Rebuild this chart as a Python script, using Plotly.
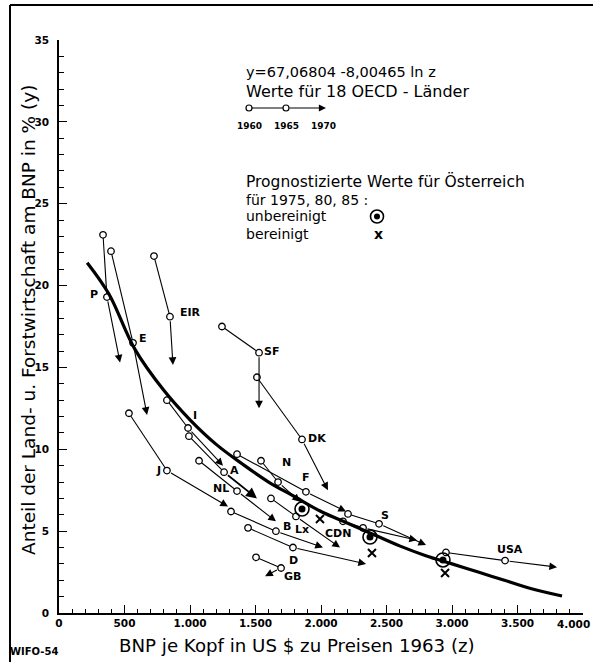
import plotly.graph_objects as go

# ---------------- data ----------------
countries = ["P", "E", "EIR", "SF", "DK", "I", "A", "J", "NL", "N", "F", "B", "Lx", "D", "GB", "CDN", "S", "USA"]
bnp_1960 = [336, 397, 725, 1244, 1511, 824, 992, 534, 1069, 1542, 1359, 1313, 1618, 1443, 1504, 2168, 2206, 2954]
bnp_1965 = [366, 565, 847, 1527, 1855, 985, 1260, 824, 1359, 1672, 1885, 1656, 1809, 1786, 1695, 2321, 2443, 3405]
bnp_1970 = [466, 672, 870, 1527, 2053, 1252, 1511, 1290, 1656, 1840, 2191, 2015, 2145, 2344, 1573, 2733, 2802, 3802]
agr_1960 = [23.1, 22.1, 21.8, 17.5, 14.4, 13.0, 10.8, 12.2, 9.3, 9.3, 9.7, 6.2, 7.0, 5.2, 3.4, 5.6, 6.05, 3.7]
agr_1965 = [19.3, 16.5, 18.1, 15.9, 10.6, 11.3, 8.6, 8.7, 7.45, 8.0, 7.4, 5.0, 5.9, 4.0, 2.75, 5.2, 5.45, 3.2]
agr_1970 = [15.3, 12.1, 15.15, 12.5, 7.5, 9.0, 7.0, 6.5, 5.6, 6.8, 6.2, 4.0, 4.0, 3.0, 2.25, 4.45, 4.15, 2.8]

# regression curve y = 67,06804 - 8,00465 ln z
curve_z = [215, 380, 580, 800, 1000, 1200, 1400, 1600, 1800, 2000, 2200, 2400, 2600, 2800, 3000, 3200, 3400, 3600, 3840]
curve_y = [21.4, 19.5, 16.1, 13.6, 11.8, 10.3, 9.1, 8.0, 7.1, 6.2, 5.5, 4.8, 4.1, 3.5, 3.0, 2.5, 2.0, 1.5, 1.04]

# Austria forecasts 1975, 80, 85
aut_years = ["1975", "1980", "1985"]
aut_unber_z = [1855, 2374, 2931]
aut_unber_y = [6.35, 4.64, 3.24]
aut_ber_z = [1992, 2389, 2947]
aut_ber_y = [5.74, 3.67, 2.44]

x_tickvals = [0, 500, 1000, 1500, 2000, 2500, 3000, 3500, 4000]
x_ticktext = ["0", "500", "1.000", "1.500", "2.000", "2.500", "3.000", "3.500", "4.000"]
y_tickvals = [0, 5, 10, 15, 20, 25, 30, 35]
y_ticktext = ["0", "5", "10", "15", "20", "25", "30", "35"]

# label offsets (pixels) relative to 1965 point
label_shift = {
    "P": (-13, 3), "E": (10, 4), "EIR": (21, 4), "SF": (12, 1), "DK": (15, 1),
    "I": (7, 13), "A": (10, 2), "J": (-8, 0), "NL": (-16, 3), "N": (8, 20),
    "F": (0, 14), "B": (11, 5), "Lx": (6, -13), "D": (1, -13), "GB": (11, -9),
    "CDN": (-25, -6), "S": (6, 8), "USA": (5, 11),
}

# ---------------- geometry helpers ----------------
W, H = 593, 662
L, R, T, B = 59, 583, 40, 613
FONT = "DejaVu Sans"


def px(x):
    return (x - L) / (R - L)


def py(y):
    return (B - y) / (B - T)


fig = go.Figure()

# country trajectories 1960 -> 1965
for i, c in enumerate(countries):
    fig.add_trace(go.Scatter(
        x=[bnp_1960[i], bnp_1965[i]], y=[agr_1960[i], agr_1965[i]],
        mode="lines+markers", line=dict(color="black", width=1.1),
        marker=dict(symbol="circle", size=6.5, color="white", line=dict(color="black", width=1.3)),
        hoverinfo="skip", showlegend=False,
    ))

# regression curve
fig.add_trace(go.Scatter(x=curve_z, y=curve_y, mode="lines", line=dict(color="black", width=3.2, shape="spline"),
                         hoverinfo="skip", showlegend=False))

# Austria forecasts
fig.add_trace(go.Scatter(x=aut_unber_z, y=aut_unber_y, mode="markers", text=aut_years,
                         marker=dict(symbol="circle-open", size=14, color="black", line=dict(width=1.6)),
                         hoverinfo="skip", showlegend=False))
fig.add_trace(go.Scatter(x=aut_unber_z, y=aut_unber_y, mode="markers",
                         marker=dict(symbol="circle", size=7, color="black"),
                         hoverinfo="skip", showlegend=False))
fig.add_trace(go.Scatter(x=aut_ber_z, y=aut_ber_y, mode="markers",
                         marker=dict(symbol="x-thin-open", size=8, color="black", line=dict(width=2, color="black")),
                         hoverinfo="skip", showlegend=False))

annotations = []
# arrows 1965 -> 1970
for i, c in enumerate(countries):
    annotations.append(dict(
        x=bnp_1970[i], y=agr_1970[i], ax=bnp_1965[i], ay=agr_1965[i],
        xref="x", yref="y", axref="x", ayref="y", text="", showarrow=True,
        arrowhead=2, arrowsize=1.4 if c != "A" else 1.2, arrowwidth=1.8 if c == "A" else 1.1, arrowcolor="black",
        startstandoff=3,
    ))
    dx, dy = label_shift[c]
    annotations.append(dict(
        x=bnp_1965[i], y=agr_1965[i], xref="x", yref="y", text="<b>%s</b>" % c, showarrow=False,
        xshift=dx, yshift=dy, font=dict(family=FONT, size=11, color="black"),
        xanchor="center", yanchor="middle",
    ))


# text block
def txt(x, y, s, size=14, xanchor="left", bold=False, angle=0):
    annotations.append(dict(x=px(x), y=py(y), xref="paper", yref="paper", text=("<b>%s</b>" % s) if bold else s,
                            showarrow=False, xanchor=xanchor, yanchor="middle", textangle=angle,
                            font=dict(family=FONT, size=size, color="black")))


txt(244, 72, "y=67,06804 -8,00465 ln z", 14.5)
txt(244, 91, "Werte für 18 OECD - Länder", 16)
txt(249, 126, "1960", 9, "center", True)
txt(286, 126, "1965", 9, "center", True)
txt(323, 126, "1970", 9, "center", True)
txt(244, 182, "Prognostizierte Werte für Österreich", 15.5)
txt(244, 199.5, "für 1975, 80, 85 :", 14)
txt(244, 216.5, "unbereinigt", 14)
txt(244, 233.5, "bereinigt", 14)
txt(378, 234, "x", 14, "center", True)
txt(28, 320, "Anteil der Land- u. Forstwirtschaft am BNP in % (y)", 18.5, "center", False, -90)
txt(297, 645, "BNP je Kopf in US $ zu Preisen 1963 (z)", 18.2, "center")
txt(8, 651, "WIFO-54", 10, "left", True)

tickfont = dict(family=FONT, size=10.5, color="black")
# last x tick label, kept inside the page (right-aligned at the edge)
annotations.append(dict(x=x_tickvals[-1], y=py(624), xref="x", yref="paper", text="<b>%s</b>" % x_ticktext[-1],
                        showarrow=False, xanchor="right", yanchor="middle", xshift=9, font=tickfont))

# legend arrow 1965 -> 1970
annotations.append(dict(x=px(326), y=py(108), xref="paper", yref="paper", ax=-41, ay=0, axref="pixel", ayref="pixel",
                        text="", showarrow=True, arrowhead=2, arrowsize=1.3, arrowwidth=1.1, arrowcolor="black",
                        startstandoff=3))

shapes = [
    # frame lines
    dict(type="line", xref="paper", yref="paper", x0=px(10), x1=px(593), y0=py(5), y1=py(5),
         line=dict(color="black", width=2)),
    dict(type="line", xref="paper", yref="paper", x0=px(10), x1=px(10), y0=py(5), y1=py(662),
         line=dict(color="black", width=2)),
    # legend line + circles
    dict(type="line", xref="paper", yref="paper", x0=px(249), x1=px(286), y0=py(108), y1=py(108),
         line=dict(color="black", width=1.1)),
    dict(type="circle", xref="paper", yref="paper", x0=px(246), x1=px(252), y0=py(111), y1=py(105),
         line=dict(color="black", width=1.2), fillcolor="white"),
    dict(type="circle", xref="paper", yref="paper", x0=px(283), x1=px(289), y0=py(111), y1=py(105),
         line=dict(color="black", width=1.2), fillcolor="white"),
    # unbereinigt symbol
    dict(type="circle", xref="paper", yref="paper", x0=px(370.5), x1=px(383.5), y0=py(223), y1=py(210),
         line=dict(color="black", width=1.6), fillcolor="white"),
    dict(type="circle", xref="paper", yref="paper", x0=px(374), x1=px(380), y0=py(219.5), y1=py(213.5),
         line=dict(color="black", width=0), fillcolor="black"),
]

fig.update_layout(
    width=W, height=H,
    margin=dict(l=L, r=W - R, t=T, b=H - B),
    plot_bgcolor="white", paper_bgcolor="white",
    showlegend=False,
    annotations=annotations, shapes=shapes,
    font=dict(family=FONT, color="black"),
    xaxis=dict(range=[0, 4000], tickvals=x_tickvals,
               ticktext=["<b>%s</b>" % t for t in x_ticktext[:-1]] + [""],
               showgrid=False, zeroline=False,
               showline=True, linecolor="black", linewidth=1.6, ticks="inside", ticklen=8, tickwidth=1.3,
               tickcolor="black", tickfont=tickfont,
               minor=dict(ticks="inside", dtick=100, ticklen=4, tickwidth=1, tickcolor="black"),
               fixedrange=True, automargin=False),
    yaxis=dict(range=[0, 35], tickvals=y_tickvals, ticktext=["<b>%s</b>" % t for t in y_ticktext],
               showgrid=False, zeroline=False,
               showline=True, linecolor="black", linewidth=1.6, ticks="inside", ticklen=8, tickwidth=1.3,
               tickcolor="black", tickfont=tickfont, ticklabeloverflow="allow",
               minor=dict(ticks="inside", dtick=1, ticklen=5, tickwidth=1, tickcolor="black"),
               ticklabelstandoff=6, fixedrange=True, automargin=False),
)

fig.write_html("out.html", config={"displayModeBar": False},
               post_script="document.body.style.margin='0';document.body.style.padding='0';"
                           "document.documentElement.style.overflow='hidden';")
